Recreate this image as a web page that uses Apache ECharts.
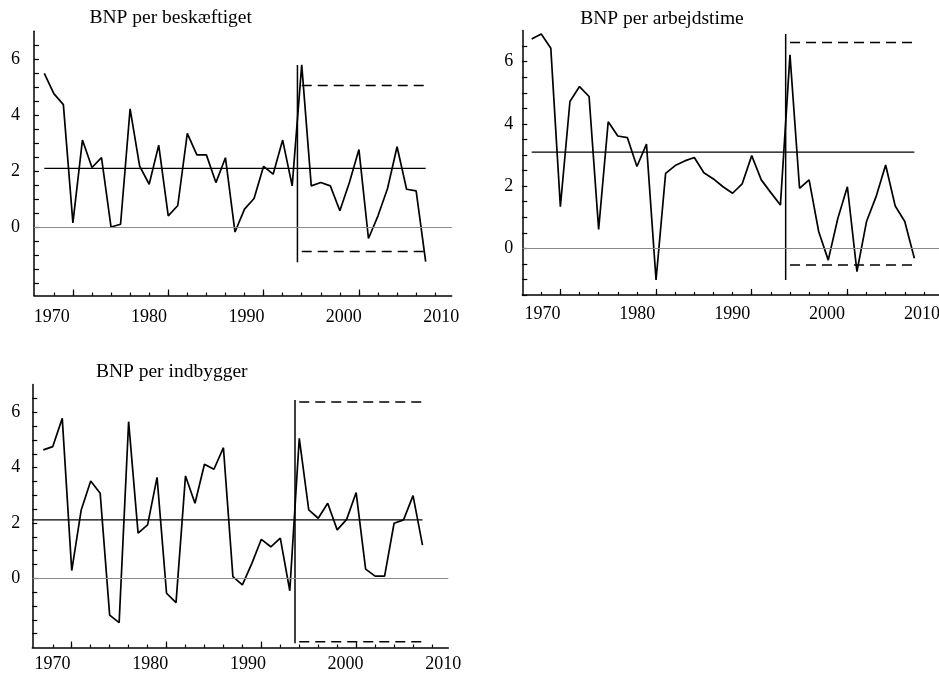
<!DOCTYPE html>
<html><head><meta charset="utf-8">
<script src="https://cdn.jsdelivr.net/npm/echarts@6/dist/echarts.min.js"></script>
<style>html,body{margin:0;padding:0;background:#fff}#c{width:939px;height:673px}</style>
</head><body><div id="c"></div>
<script>
// ---- data ----
const years = [1969,1970,1971,1972,1973,1974,1975,1976,1977,1978,1979,1980,1981,1982,1983,1984,1985,1986,1987,1988,1989,1990,1991,1992,1993,1994,1995,1996,1997,1998,1999,2000,2001,2002,2003,2004,2005,2006,2007,2008,2009];
const perEmployed = [5.50,4.77,4.38,0.15,3.11,2.13,2.48,0.00,0.10,4.23,2.18,1.53,2.93,0.40,0.77,3.35,2.58,2.58,1.59,2.48,-0.18,0.64,1.02,2.17,1.89,3.11,1.47,5.80,1.47,1.59,1.47,0.58,1.59,2.77,-0.41,0.40,1.38,2.87,1.35,1.29,-1.24];
const perHour = [6.73,6.89,6.43,1.34,4.72,5.20,4.88,0.61,4.07,3.61,3.56,2.63,3.35,-1.02,2.41,2.66,2.81,2.92,2.43,2.23,1.98,1.77,2.07,2.98,2.20,1.79,1.39,6.22,1.93,2.20,0.54,-0.38,0.96,1.98,-0.75,0.86,1.66,2.68,1.36,0.86,-0.32];
const perCapita = [4.64,4.76,5.78,0.28,2.47,3.52,3.07,-1.33,-1.60,5.66,1.63,1.93,3.65,-0.54,-0.88,3.70,2.71,4.12,3.94,4.72,0.06,-0.24,0.54,1.41,1.14,1.45,-0.45,5.06,2.47,2.17,2.71,1.75,2.13,3.10,0.33,0.08,0.08,1.99,2.11,2.99,1.20];
const titles = ['BNP per beskæftiget','BNP per arbejdstime','BNP per indbygger'];
const meanLevel = [2.10, 3.09, 2.11];
const bandUpper = [5.06, 6.62, 6.37];
const bandLower = [-0.88, -0.54, -2.29];
const breakYear = [1995.55, 1995.55, 1995.55];
const breakLow = [-1.26, -1.02, -2.35];
const breakHigh = [5.80, 6.89, 6.44];
const bandStart = 1996;
const xTickLabels = [1970, 1980, 1990, 2000, 2010];
const xMinorTicks = [1970,1972,1974,1976,1978,1980,1982,1984,1986,1988,1990,1992,1994,1996,1998,2000,2002,2004,2006,2008,2010];
const xMajorTicks = [1972, 1982, 1992, 2002];
const yTickLabels = [0, 2, 4, 6];
const yTicks = [-2,-1.5,-1,-0.5,0,0.5,1,1.5,2,2.5,3,3.5,4,4.5,5,5.5,6,6.5];

// ---- layout ----
const series3 = [perEmployed, perHour, perCapita];
const L = [
  {left:34, top:31.35, width:417.7, height:264.15, xMin:1967.92, xMax:2011.73, lMin:1968.18, lMax:2011.08, yMin:-2.45, yMax:7, yM:14, xM:12.5, tX:170.7, tY:8, meanFromAxis:false},
  {left:522.3, top:30.6, width:421.7, height:264.35, xMin:1968.02, xMax:2012.1, lMin:1967.88, lMax:2012.32, yMin:-1.5, yMax:7, yM:9, xM:10, tX:662, tY:8.5, meanFromAxis:false},
  {left:32.3, top:384.6, width:416, height:262.9, xMin:1967.84, xMax:2011.72, lMin:1967.93, lMax:2010.51, yMin:-2.5, yMax:7, yM:12, xM:8, tX:171.7, tY:362, meanFromAxis:true}
];
const FONT = 'Liberation Serif';
const grid = [], xAxis = [], yAxis = [], series = [], title = [];
L.forEach((p, i) => {
  grid.push({left:p.left, top:p.top, width:p.width, height:p.height, containLabel:false, outerBoundsMode:'none'});
  title.push({text:titles[i], left:p.tX, top:p.tY, textAlign:'center', padding:0,
    textStyle:{fontFamily:FONT, fontSize:19.5, fontWeight:'normal', color:'#000'}});
  const inRange = v => v >= p.xMin && v <= p.xMax;
  xAxis.push({type:'value', gridIndex:i, position:'bottom', min:p.xMin, max:p.xMax,
    axisLine:{show:true, onZero:false, lineStyle:{color:'#000', width:1.5}},
    axisTick:{show:true, inside:true, length:3, customValues:xMinorTicks.filter(inRange), lineStyle:{color:'#000', width:1.2}},
    axisLabel:{show:false}, splitLine:{show:false}});
  xAxis.push({type:'value', gridIndex:i, position:'bottom', min:p.xMin, max:p.xMax,
    axisLine:{show:false, onZero:false},
    axisTick:{show:true, inside:true, length:6, customValues:xMajorTicks, lineStyle:{color:'#000', width:1.2}},
    axisLabel:{show:false}, splitLine:{show:false}});
  xAxis.push({type:'value', gridIndex:i, position:'bottom', min:p.lMin, max:p.lMax,
    axisLine:{show:false, onZero:false}, axisTick:{show:false},
    axisLabel:{show:true, customValues:xTickLabels, formatter:v => String(Math.round(v)), margin:p.xM, fontFamily:FONT, fontSize:18, color:'#000'},
    splitLine:{show:false}});
  yAxis.push({type:'value', gridIndex:i, min:p.yMin, max:p.yMax,
    axisLine:{show:true, onZero:false, lineStyle:{color:'#000', width:1.5}},
    axisTick:{show:true, inside:true, length:5, customValues:yTicks.filter(v => v >= p.yMin && v <= p.yMax), lineStyle:{color:'#000', width:1.2}},
    axisLabel:{show:true, customValues:yTickLabels, formatter:v => String(Math.round(v)), margin:p.yM, fontFamily:FONT, fontSize:18, color:'#000'},
    splitLine:{show:false}});
  const xi = 3 * i;
  const base = {type:'line', xAxisIndex:xi, yAxisIndex:i, symbol:'none', silent:true, animation:false};
  const meanStart = p.meanFromAxis ? p.xMin : years[0];
  const last = years[years.length - 1];
  series.push(Object.assign({}, base, {data:[[meanStart, meanLevel[i]], [last, meanLevel[i]]], lineStyle:{color:'#000', width:1.3}, z:2,
    markLine:{silent:true, symbol:'none', label:{show:false}, animation:false, data:[{yAxis:0}], lineStyle:{color:'#8a8a8a', width:1.2, type:'solid'}}}));
  series.push(Object.assign({}, base, {data:[[breakYear[i], breakLow[i]], [breakYear[i], breakHigh[i]]], lineStyle:{color:'#000', width:1.5}, z:2}));
  series.push(Object.assign({}, base, {data:[[bandStart, bandUpper[i]], [last, bandUpper[i]]], lineStyle:{color:'#000', width:1.5, type:[10,6]}, z:2}));
  series.push(Object.assign({}, base, {data:[[bandStart, bandLower[i]], [last, bandLower[i]]], lineStyle:{color:'#000', width:1.5, type:[10,6]}, z:2}));
  series.push(Object.assign({}, base, {data:years.map((y, k) => [y, series3[i][k]]), lineStyle:{color:'#000', width:1.7}, z:3}));
});
const chart = echarts.init(document.getElementById('c'), null, {renderer:'canvas'});
chart.setOption({animation:false, backgroundColor:'#fff', title, grid, xAxis, yAxis, series});
</script>
</body></html>
